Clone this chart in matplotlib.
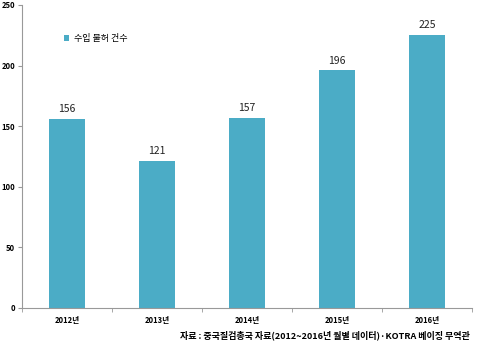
import matplotlib.pyplot as plt
import numpy as np

plt.rcParams['font.family'] = ['Noto Sans CJK KR', 'DejaVu Sans']

years = ['2012년', '2013년', '2014년', '2015년', '2016년']
counts = [156, 121, 157, 196, 225]

fig = plt.figure(figsize=(4.85, 3.49), dpi=100)
ax = fig.add_axes([0.0454, 0.1175, 0.9276, 0.8682])

x = np.arange(len(years))
ax.bar(x, counts, width=0.4, color='#4BACC6', label='수입 불허 건수')
for xi, v in zip(x, counts):
    ax.text(xi, v + 4, str(v), ha='center', va='bottom', fontsize=7.5, color='#222222')

ax.set_xlim(-0.5, len(years) - 0.5)
ax.set_ylim(0, 250)
ax.set_yticks(range(0, 251, 50))
ax.set_yticklabels([str(v) for v in range(0, 251, 50)], fontsize=5.5, fontweight='bold')
ax.set_xticks(x)
ax.set_xticklabels(years, fontsize=5.5, fontweight='bold')
ax.set_xticks(np.arange(-0.5, len(years)), minor=True)
ax.tick_params(axis='x', which='major', length=0, pad=6)
ax.tick_params(axis='x', which='minor', length=3, color='#999999')
ax.tick_params(axis='y', length=3, color='#999999', pad=2)

for s in ['top', 'right']:
    ax.spines[s].set_visible(False)
for s in ['left', 'bottom']:
    ax.spines[s].set_color('#999999')
    ax.spines[s].set_linewidth(0.8)

ax.legend(loc='upper left', bbox_to_anchor=(0.075, 0.93), frameon=False, fontsize=6.5,
          handlelength=0.6, handleheight=0.6, handletextpad=0.5)

fig.text(0.968, 0.04, '자료 : 중국질검총국 자료(2012~2016년 월별 데이터)·KOTRA 베이징 무역관',
         ha='right', va='center', fontsize=6.5, fontweight='bold')

fig.savefig('out.png', dpi=100)
